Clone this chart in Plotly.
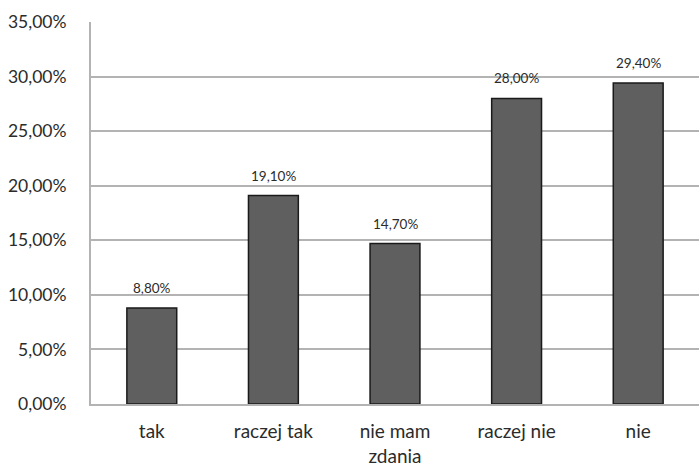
import plotly.graph_objects as go

categories = ["tak", "raczej tak", "nie mam<br>zdania", "raczej nie", "nie"]
values = [8.8, 19.1, 14.7, 28.0, 29.4]
y_ticks = [0, 5, 10, 15, 20, 25, 30, 35]
y_tick_labels = [f"{v:.2f}%".replace(".", ",") for v in y_ticks]
value_labels = [f"{v:.2f}%".replace(".", ",") for v in values]

FONT = "Lato, Open Sans, sans-serif"
GRID = "#b3b3b3"
TEXT = "#2b2b2b"

fig = go.Figure(
    go.Bar(
        x=categories,
        y=values,
        width=0.41,
        marker=dict(color="#5f5f5f", line=dict(color="#1a1a1a", width=1.5)),
        hoverinfo="skip",
    )
)

for cat, val, lab in zip(categories, values, value_labels):
    fig.add_annotation(
        x=cat, y=val, text=lab, showarrow=False, yshift=20,
        font=dict(family=FONT, size=13.5, color=TEXT),
    )

fig.update_layout(
    width=699, height=465,
    margin=dict(l=91, r=0, t=22, b=61),
    paper_bgcolor="white", plot_bgcolor="white",
    showlegend=False,
    font=dict(family=FONT, color=TEXT),
)
fig.update_xaxes(
    showgrid=False, showline=True, linecolor=GRID, linewidth=2,
    tickfont=dict(size=19, color=TEXT), ticks="", ticklabelstandoff=9,
    automargin=False,
)
fig.update_yaxes(
    range=[0, 35], tickvals=y_ticks, ticktext=y_tick_labels,
    showgrid=True, gridcolor=GRID, gridwidth=2,
    showline=True, linecolor=GRID, linewidth=2,
    zeroline=False, ticks="", ticklabelstandoff=19,
    tickfont=dict(size=17.5, color=TEXT), automargin=False,
)

fig.write_html("out.html")
